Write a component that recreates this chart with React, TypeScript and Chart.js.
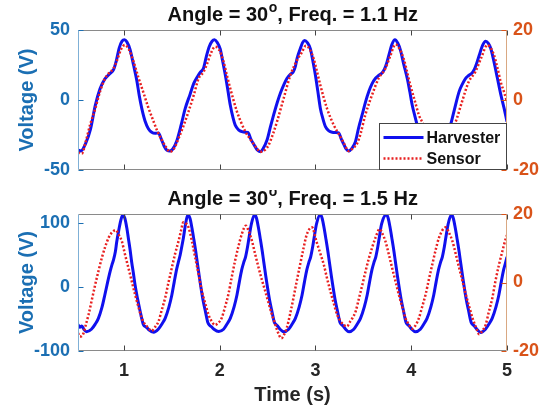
import React, { useEffect, useRef } from "react";
import { Chart, registerables } from "chart.js";

Chart.register(...registerables);

// ---------- DATA ----------
const xTicks = [1, 2, 3, 4, 5];
const xMin = 0.52;
const xMax = 5;

const topLeftTicks = [-50, 0, 50];
const topRightTicks = [-20, 0, 20];
const botLeftTicks = [-100, 0, 100];
const botRightTicks = [-20, 0, 20];

const seriesNames = ["Harvester", "Sensor"];
const angleText = "30";
const freqTexts = ["1.1", "1.5"];

// Top panel: Harvester (time s, voltage V, left axis)
const topHarvT = [0.52, 0.55, 0.6, 0.65, 0.7, 0.75, 0.8, 0.855, 0.89, 0.92, 0.95, 0.98, 1.005, 1.03, 1.064, 1.1, 1.134, 1.16, 1.186, 1.22, 1.255, 1.29, 1.325, 1.36, 1.39, 1.42, 1.45, 1.48, 1.51, 1.55, 1.6, 1.64, 1.69, 1.73, 1.77, 1.8, 1.83, 1.86, 1.89, 1.92, 1.946, 1.975, 2.005, 2.03, 2.058, 2.085, 2.11, 2.14, 2.162, 2.2, 2.232, 2.265, 2.295, 2.325, 2.354, 2.39, 2.424, 2.455, 2.494, 2.53, 2.563, 2.6, 2.633, 2.67, 2.703, 2.74, 2.766, 2.79, 2.808, 2.84, 2.865, 2.887, 2.915, 2.947, 2.975, 2.999, 3.025, 3.051, 3.08, 3.104, 3.14, 3.174, 3.21, 3.243, 3.27, 3.295, 3.32, 3.347, 3.38, 3.417, 3.45, 3.487, 3.52, 3.557, 3.59, 3.627, 3.66, 3.697, 3.72, 3.74, 3.77, 3.8, 3.83, 3.86, 3.888, 3.92, 3.958, 3.985, 4.01, 4.04, 4.063, 4.1, 4.14, 4.18, 4.21, 4.25, 4.29, 4.33, 4.37, 4.41, 4.45, 4.5, 4.535, 4.568, 4.6, 4.638, 4.66, 4.68, 4.71, 4.745, 4.777, 4.805, 4.83, 4.865, 4.9, 4.935, 4.97, 5.0];
const topHarvV = [-35.7, -36.4, -31, -21, -4, 8, 15, 19, 21.5, 28, 37, 42, 43, 41.5, 36, 25, 14, 3, -6, -15, -20.5, -23, -23.8, -23.5, -28, -33, -36, -36.5, -35, -29.5, -17, -6, 4, 12, 17, 20, 22.6, 31, 38, 42, 43, 41, 36.5, 28, 18, 7, -3.6, -13, -18, -21.5, -22.6, -23, -23.2, -28, -31.5, -35.5, -36.9, -34.5, -28.6, -19, -10.7, -2, 4.8, 11, 15.5, 18.5, 19.8, 24, 29.8, 36.5, 41, 42.5, 41, 36.5, 27, 17.9, 6, -6, -14, -19, -22, -23, -23.2, -23.5, -28, -31.5, -35, -36.4, -34.5, -29.8, -20, -10.7, -2, 6, 11.5, 15.5, 17.5, 19.5, 22, 25.5, 33, 40, 43, 40.5, 35.5, 26, 15.5, 6, -3.6, -12, -18, -21.5, -23, -23.3, -28, -33.5, -36.4, -33.5, -25, -17.9, -7, 6, 11.5, 15.5, 17.5, 19.5, 22, 25.5, 32, 39, 42, 40.5, 37, 27, 15.5, 4, -6, -15.5];

// Top panel: Sensor (time s, value, right axis)
const topSensT = [0.52, 0.56, 0.6, 0.646, 0.7, 0.75, 0.8, 0.84, 0.89, 0.93, 0.97, 1.01, 1.05, 1.1, 1.15, 1.2, 1.25, 1.31, 1.35, 1.395, 1.44, 1.48, 1.52, 1.57, 1.62, 1.674, 1.73, 1.78, 1.83, 1.87, 1.91, 1.95, 1.99, 2.04, 2.075, 2.11, 2.18, 2.225, 2.267, 2.337, 2.38, 2.424, 2.47, 2.51, 2.555, 2.598, 2.668, 2.738, 2.808, 2.855, 2.9, 2.94, 2.98, 3.015, 3.05, 3.12, 3.19, 3.26, 3.3, 3.347, 3.39, 3.435, 3.47, 3.52, 3.59, 3.66, 3.73, 3.78, 3.836, 3.88, 3.92, 3.955, 3.99, 4.04, 4.08, 4.13, 4.18, 4.23, 4.28, 4.33, 4.38, 4.42, 4.46, 4.53, 4.6, 4.67, 4.73, 4.795, 4.83, 4.864, 4.9, 4.934, 4.97, 5.0];
const topSensV = [-15, -15.3, -12, -7.1, -2.5, 2.4, 6, 7.6, 9, 11.5, 14.5, 15.7, 14.5, 11, 6.5, 2.4, -1.8, -6.2, -9, -11.4, -13.5, -14.8, -14, -11, -7.5, -3.3, 1.5, 6.2, 8, 10.5, 13.5, 15.2, 14.5, 11, 7, 3.3, -3.3, -6.5, -9, -11.9, -13.5, -14.8, -14.3, -12.9, -9.8, -6.2, 0.5, 7.1, 11.4, 13.5, 15.5, 14.5, 11.9, 8.2, 4.3, -2.4, -7.1, -10.5, -12.5, -14.6, -13.8, -12.4, -9.7, -4.3, 1.4, 6.2, 9, 12.5, 15.9, 14.5, 11.9, 8.2, 4.3, -0.5, -4.3, -7.1, -10.5, -13, -14.7, -13.5, -10.8, -8.5, -6.5, -0.5, 5.2, 8.1, 12, 15.7, 14.8, 12.9, 9.2, 5.2, 2.2, -0.5];

// Bottom panel: Harvester (time s, voltage V, left axis)
const botHarvT = [0.52, 0.54, 0.56, 0.585, 0.61, 0.66, 0.7, 0.733, 0.77, 0.8, 0.83, 0.855, 0.875, 0.89, 0.91, 0.925, 0.945, 0.965, 0.987, 1.01, 1.03, 1.046, 1.065, 1.08, 1.1, 1.116, 1.14, 1.17, 1.19, 1.203, 1.225, 1.24, 1.26, 1.31, 1.36, 1.4, 1.43, 1.47, 1.5, 1.525, 1.552, 1.57, 1.587, 1.6, 1.62, 1.645, 1.667, 1.69, 1.71, 1.73, 1.75, 1.765, 1.785, 1.8, 1.825, 1.85, 1.875, 1.895, 1.92, 1.94, 1.99, 2.04, 2.08, 2.11, 2.15, 2.18, 2.205, 2.23, 2.25, 2.27, 2.285, 2.305, 2.33, 2.364, 2.385, 2.405, 2.425, 2.445, 2.46, 2.48, 2.495, 2.52, 2.545, 2.57, 2.59, 2.61, 2.63, 2.67, 2.72, 2.76, 2.79, 2.83, 2.86, 2.885, 2.91, 2.93, 2.95, 2.965, 2.985, 3.01, 3.05, 3.07, 3.09, 3.11, 3.13, 3.145, 3.165, 3.18, 3.205, 3.23, 3.255, 3.275, 3.295, 3.315, 3.35, 3.4, 3.44, 3.47, 3.51, 3.54, 3.565, 3.59, 3.61, 3.63, 3.645, 3.665, 3.69, 3.74, 3.76, 3.78, 3.8, 3.82, 3.835, 3.855, 3.87, 3.895, 3.92, 3.945, 3.965, 3.985, 4.005, 4.045, 4.095, 4.135, 4.165, 4.205, 4.235, 4.26, 4.285, 4.305, 4.325, 4.34, 4.36, 4.385, 4.42, 4.44, 4.46, 4.48, 4.5, 4.515, 4.535, 4.55, 4.575, 4.6, 4.625, 4.645, 4.665, 4.685, 4.725, 4.775, 4.815, 4.845, 4.885, 4.915, 4.94, 4.965, 4.985, 5.0];
const botHarvV = [-59, -63, -61, -67, -70, -66, -58, -49, -32, -12.5, 8, 24, 35, 42, 55, 71, 88, 103, 112.5, 107, 92, 76, 57, 39.5, 20, 3, -17, -38.6, -52, -59, -62, -63.6, -67, -70.8, -65.6, -57, -49, -31, -12.5, 8, 29, 40, 50, 60, 76, 100, 112.5, 107, 92, 74, 55, 39, 18, 3, -20, -38, -55, -60, -63, -66, -69.5, -66, -57, -49, -31, -12.5, 8, 27, 38, 47, 58, 76, 98, 113, 107, 92, 74, 55, 39, 18, 3, -20, -38, -55, -59, -62, -66, -70, -66, -57, -49, -31, -12.5, 8, 27, 38, 47, 58, 76, 98, 113, 107, 92, 74, 55, 39, 18, 3, -20, -38, -55, -59, -62, -66, -70, -66, -57, -49, -31, -12.5, 8, 27, 38, 47, 58, 76, 98, 113, 107, 92, 74, 55, 39, 18, 3, -20, -38, -55, -59, -62, -66, -70, -66, -57, -49, -31, -12.5, 8, 27, 38, 47, 58, 76, 98, 113, 107, 92, 74, 55, 39, 18, 3, -20, -38, -55, -59, -62, -66, -71, -66, -57, -49, -31, -12.5, 8, 27, 38, 47];

// Bottom panel: Sensor (time s, value, right axis)
const botSensT = [0.52, 0.54, 0.575, 0.6, 0.63, 0.665, 0.7, 0.735, 0.77, 0.805, 0.84, 0.875, 0.914, 0.945, 0.977, 1.01, 1.046, 1.08, 1.116, 1.15, 1.186, 1.215, 1.24, 1.29, 1.325, 1.36, 1.395, 1.43, 1.465, 1.5, 1.535, 1.57, 1.595, 1.62, 1.645, 1.674, 1.71, 1.744, 1.78, 1.814, 1.85, 1.883, 1.915, 1.95, 1.985, 2.02, 2.055, 2.09, 2.125, 2.16, 2.195, 2.23, 2.274, 2.305, 2.337, 2.37, 2.406, 2.44, 2.476, 2.51, 2.546, 2.575, 2.598, 2.644, 2.67, 2.7, 2.735, 2.77, 2.805, 2.84, 2.875, 2.91, 2.964, 3.01, 3.05, 3.086, 3.12, 3.156, 3.19, 3.226, 3.26, 3.295, 3.33, 3.36, 3.39, 3.42, 3.455, 3.49, 3.525, 3.56, 3.595, 3.627, 3.67, 3.7, 3.73, 3.765, 3.8, 3.835, 3.87, 3.905, 3.94, 3.975, 4.01, 4.045, 4.08, 4.115, 4.15, 4.185, 4.22, 4.255, 4.29, 4.36, 4.395, 4.43, 4.465, 4.5, 4.535, 4.57, 4.605, 4.64, 4.675, 4.71, 4.745, 4.777, 4.81, 4.847, 4.88, 4.917, 4.955, 4.99, 5.0];
const botSensV = [-14.8, -15.8, -15, -12.5, -9.4, -5, -0.6, 3.5, 7.3, 10.5, 13.1, 14.6, 15.3, 14, 12.1, 8.3, 4.3, 0.5, -3.5, -7, -10.4, -12, -12.8, -14.1, -13, -11.4, -8, -4.5, 0, 4.3, 8.5, 12.1, 15, 17.6, 17.3, 16.1, 12, 7.3, 2.3, -2.6, -6.2, -9.4, -11.3, -12.4, -11.8, -10.4, -7.2, -3.5, 1.5, 6.3, 10.5, 14.1, 16.6, 14.8, 12.1, 8.3, 4.3, 0.8, -2.6, -6, -9.4, -11.8, -13.8, -16.3, -15.3, -13.3, -9.2, -4.5, 0.5, 5.3, 10, 14.1, 16.1, 12, 8.5, 5.3, 1.3, -2.6, -6, -9.4, -11.2, -12.4, -12.8, -11.5, -10.2, -8.4, -4.5, -0.6, 3.5, 7.3, 10.5, 13.1, 15.6, 14.2, 12.1, 8.3, 4.3, 0.4, -3.5, -7, -10.4, -12.3, -13.5, -12.5, -10.4, -7, -3.5, 1, 5.3, 9.5, 13.1, 16.1, 14.5, 12.1, 8.3, 4.3, 0.4, -3.5, -7, -10.4, -13, -15.1, -14, -12.4, -8.6, -4.5, 0.5, 5.3, 9.5, 13.1, 13.8];

// ---------- STYLE ----------
const FONT = "'Liberation Sans', Arial, Helvetica, sans-serif";
const LEFT_COLOR = "#1b6fb3";
const LEFT_LINE = "#7fb0d6";
const RIGHT_COLOR = "#d95319";
const RIGHT_LINE = "#d9a882";
const FRAME = "#8a8a8a";
const TEXT = "#262626";
const HARV_COLOR = "#1010ee";
const SENS_COLOR = "#e82020";

const pts = (t: number[], v: number[]) => t.map((x, i) => ({ x, y: v[i] }));

function makeOverlay(opts: {
  freq: string;
  titleBaseline: number;
  leftTicks: number[];
  rightTicks: number[];
  legend: boolean;
}) {
  return {
    id: "overlay",
    afterDatasetsDraw(chart: any) {
      const { ctx, chartArea: a, scales } = chart;
      ctx.save();
      ctx.lineWidth = 1;
      const L = Math.round(a.left) + 0.5;
      const R = Math.round(a.right) - 0.5;
      const T = Math.round(a.top) + 0.5;
      const B = Math.round(a.bottom) - 0.5;
      const seg = (x1: number, y1: number, x2: number, y2: number, c: string) => {
        ctx.strokeStyle = c;
        ctx.beginPath();
        ctx.moveTo(x1, y1);
        ctx.lineTo(x2, y2);
        ctx.stroke();
      };
      seg(L, T, R, T, FRAME);
      seg(L, B, R, B, FRAME);
      seg(L, T, L, B, LEFT_LINE);
      seg(R, T, R, B, RIGHT_LINE);
      for (const t of xTicks) {
        const px = Math.round(scales.x.getPixelForValue(t)) + 0.5;
        seg(px, B, px, B - 5, "#444");
        seg(px, T, px, T + 5, "#444");
      }
      for (const v of opts.leftTicks) {
        const py = Math.round(scales.yL.getPixelForValue(v)) + 0.5;
        seg(L, py, L + 5, py, LEFT_COLOR);
      }
      for (const v of opts.rightTicks) {
        const py = Math.round(scales.yR.getPixelForValue(v)) + 0.5;
        seg(R, py, R - 5, py, RIGHT_COLOR);
      }
      ctx.restore();
    },
    afterDraw(chart: any) {
      const { ctx, chartArea: a } = chart;
      ctx.save();
      // title with superscript "o"
      const p1 = "Angle = " + angleText;
      const sup = "o";
      const p2 = ", Freq. = " + opts.freq + " Hz";
      ctx.fillStyle = "#111";
      ctx.textBaseline = "alphabetic";
      ctx.textAlign = "left";
      ctx.font = `bold 20px ${FONT}`;
      const w1 = ctx.measureText(p1).width;
      const w2 = ctx.measureText(p2).width;
      ctx.font = `bold 14px ${FONT}`;
      const ws = ctx.measureText(sup).width;
      const cx = (a.left + a.right) / 2;
      const x0 = cx - (w1 + ws + w2) / 2;
      const yb = opts.titleBaseline;
      ctx.font = `bold 20px ${FONT}`;
      ctx.fillText(p1, x0, yb);
      ctx.font = `bold 14px ${FONT}`;
      ctx.fillText(sup, x0 + w1 + 0.5, yb - 9);
      ctx.font = `bold 20px ${FONT}`;
      ctx.fillText(p2, x0 + w1 + ws + 0.5, yb);

      if (opts.legend) {
        const bw = 127;
        const bh = 46;
        const bx = Math.round(a.right) - bw - 0.5;
        const by = Math.round(a.bottom) - bh - 0.5;
        ctx.fillStyle = "#fff";
        ctx.fillRect(bx, by, bw, bh);
        ctx.strokeStyle = "#444";
        ctx.lineWidth = 1;
        ctx.strokeRect(bx, by, bw, bh);
        const rows = [
          { y: by + 14, color: HARV_COLOR, dash: [] as number[], w: 3 },
          { y: by + 35, color: SENS_COLOR, dash: [2, 2], w: 2.5 },
        ];
        rows.forEach((r, i) => {
          ctx.strokeStyle = r.color;
          ctx.lineWidth = r.w;
          ctx.setLineDash(r.dash);
          ctx.beginPath();
          ctx.moveTo(bx + 4, r.y);
          ctx.lineTo(bx + 44, r.y);
          ctx.stroke();
          ctx.setLineDash([]);
          ctx.fillStyle = "#111";
          ctx.font = `bold 16px ${FONT}`;
          ctx.textBaseline = "middle";
          ctx.fillText(seriesNames[i], bx + 47, r.y + 1);
        });
      }
      ctx.restore();
    },
  };
}

function yAxis(
  position: "left" | "right",
  min: number,
  max: number,
  ticks: number[],
  color: string,
  width: number,
  withTitle: boolean
) {
  return {
    type: "linear",
    position,
    min,
    max,
    afterBuildTicks: (s: any) => {
      s.ticks = ticks.map((v) => ({ value: v }));
    },
    afterFit: (s: any) => {
      s.width = width;
    },
    grid: { display: false, drawTicks: false },
    border: { display: false },
    ticks: {
      color,
      padding: position === "left" ? 8 : 6,
      font: { family: FONT, size: 18, weight: "bold" },
    },
    title: {
      display: withTitle,
      text: "Voltage (V)",
      color,
      font: { family: FONT, size: 20, weight: "bold" },
      padding: { top: 15, bottom: 0 },
    },
  };
}

function PanelChart(props: {
  width: number;
  height: number;
  top: number;
  config: any;
}) {
  const ref = useRef<HTMLCanvasElement | null>(null);
  useEffect(() => {
    if (!ref.current) return;
    const chart = new Chart(ref.current, props.config);
    return () => chart.destroy();
  }, []);
  return (
    <canvas
      ref={ref}
      width={props.width}
      height={props.height}
      style={{
        position: "absolute",
        left: 0,
        top: props.top,
        width: props.width,
        height: props.height,
      }}
    />
  );
}

function datasets(hT: number[], hV: number[], sT: number[], sV: number[]) {
  return [
    {
      label: seriesNames[0],
      data: pts(hT, hV),
      yAxisID: "yL",
      borderColor: HARV_COLOR,
      borderWidth: 3,
      pointRadius: 0,
      fill: false,
      cubicInterpolationMode: "monotone",
      order: 2,
    },
    {
      label: seriesNames[1],
      data: pts(sT, sV),
      yAxisID: "yR",
      borderColor: SENS_COLOR,
      borderWidth: 2.5,
      borderDash: [2, 2],
      pointRadius: 0,
      fill: false,
      cubicInterpolationMode: "monotone",
      order: 1,
    },
  ];
}

const commonPlugins = {
  legend: { display: false },
  title: { display: false },
  tooltip: { enabled: false },
};

export default function App() {
  const topConfig = {
    type: "line",
    data: { datasets: datasets(topHarvT, topHarvV, topSensT, topSensV) },
    options: {
      responsive: false,
      animation: false,
      devicePixelRatio: 1,
      layout: { padding: { top: 30, bottom: 20, left: 0, right: 0 } },
      plugins: commonPlugins,
      scales: {
        x: { type: "linear", min: xMin, max: xMax, display: false },
        yL: yAxis("left", -50, 50, topLeftTicks, LEFT_COLOR, 78, true),
        yR: yAxis("right", -20, 20, topRightTicks, RIGHT_COLOR, 33, false),
      },
    },
    plugins: [
      makeOverlay({
        freq: freqTexts[0],
        titleBaseline: 21,
        leftTicks: topLeftTicks,
        rightTicks: topRightTicks,
        legend: true,
      }),
    ],
  };

  const botConfig = {
    type: "line",
    data: { datasets: datasets(botHarvT, botHarvV, botSensT, botSensV) },
    options: {
      responsive: false,
      animation: false,
      devicePixelRatio: 1,
      layout: { padding: { top: 24, bottom: 0, left: 0, right: 0 } },
      plugins: commonPlugins,
      scales: {
        x: {
          type: "linear",
          min: xMin,
          max: xMax,
          afterBuildTicks: (s: any) => {
            s.ticks = xTicks.map((v) => ({ value: v }));
          },
          afterFit: (s: any) => {
            s.height = 57;
          },
          grid: { display: false, drawTicks: false },
          border: { display: false },
          ticks: {
            color: TEXT,
            padding: 9,
            maxRotation: 0,
            font: { family: FONT, size: 18, weight: "bold" },
          },
          title: {
            display: true,
            text: "Time (s)",
            color: TEXT,
            font: { family: FONT, size: 20, weight: "bold" },
            padding: { top: 0, bottom: 1 },
          },
        },
        yL: yAxis("left", -100, 114, botLeftTicks, LEFT_COLOR, 78, true),
        yR: yAxis("right", -20, 20, botRightTicks, RIGHT_COLOR, 33, false),
      },
    },
    plugins: [
      makeOverlay({
        freq: freqTexts[1],
        titleBaseline: 15,
        leftTicks: botLeftTicks,
        rightTicks: botRightTicks,
        legend: false,
      }),
    ],
  };

  return (
    <div
      style={{
        position: "fixed",
        left: 0,
        top: 0,
        width: 540,
        height: 408,
        background: "#fff",
        overflow: "hidden",
      }}
    >
      <PanelChart width={540} height={190} top={0} config={topConfig} />
      <PanelChart width={540} height={218} top={190} config={botConfig} />
    </div>
  );
}
